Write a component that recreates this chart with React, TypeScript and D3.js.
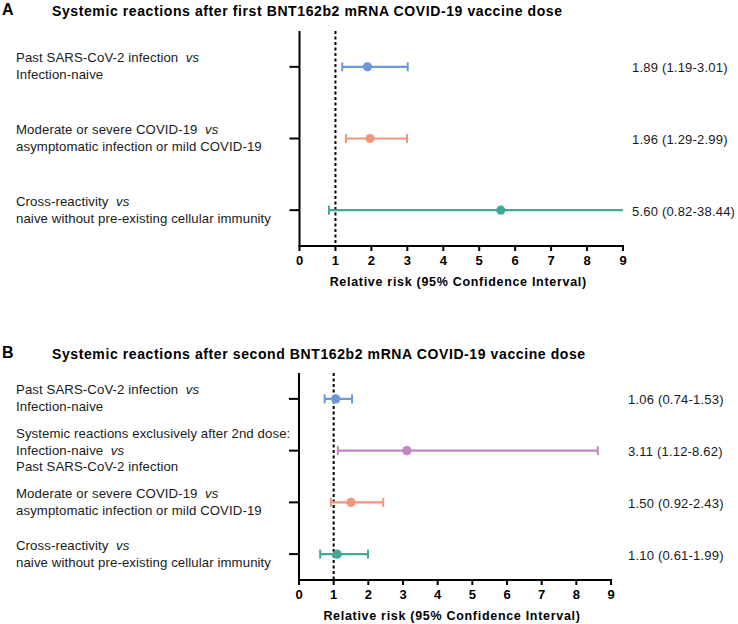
import React, { useEffect, useRef } from "react";
import * as d3 from "d3";

const titleA = "Systemic reactions after first BNT162b2 mRNA COVID-19 vaccine dose";
const titleB = "Systemic reactions after second BNT162b2 mRNA COVID-19 vaccine dose";
const axisTitle = "Relative risk (95% Confidence Interval)";
const xTicks = [0, 1, 2, 3, 4, 5, 6, 7, 8, 9];

// Each label: array of lines, each line array of [text, italic]
const labelsA: [string, boolean][][][] = [
  [[["Past SARS-CoV-2 infection  ", false], ["vs", true]], [["Infection-naive", false]]],
  [[["Moderate or severe COVID-19  ", false], ["vs", true]], [["asymptomatic infection or mild COVID-19", false]]],
  [[["Cross-reactivity  ", false], ["vs", true]], [["naive without pre-existing cellular immunity", false]]],
];
const estA = [1.89, 1.96, 5.6];
const lowA = [1.19, 1.29, 0.82];
const highA = [3.01, 2.99, 38.44];
const colorsA = ["#6e97d5", "#f3957c", "#43a898"];

const labelsB: [string, boolean][][][] = [
  [[["Past SARS-CoV-2 infection  ", false], ["vs", true]], [["Infection-naive", false]]],
  [
    [["Systemic reactions exclusively after 2nd dose:", false]],
    [["Infection-naive  ", false], ["vs", true]],
    [["Past SARS-CoV-2 infection", false]],
  ],
  [[["Moderate or severe COVID-19  ", false], ["vs", true]], [["asymptomatic infection or mild COVID-19", false]]],
  [[["Cross-reactivity  ", false], ["vs", true]], [["naive without pre-existing cellular immunity", false]]],
];
const estB = [1.06, 3.11, 1.5, 1.1];
const lowB = [0.74, 1.12, 0.92, 0.61];
const highB = [1.53, 8.62, 2.43, 1.99];
const colorsB = ["#6e97d5", "#c584c2", "#f3957c", "#43a898"];

const FONT = "'Liberation Sans', Arial, sans-serif";

type Panel = {
  letter: string;
  title: string;
  titleY: number;
  labels: [string, boolean][][][];
  est: number[];
  low: number[];
  high: number[];
  colors: string[];
  x0: number;
  x1: number;
  top: number;
  bottom: number;
  valueX: number;
};

function drawPanel(svg: d3.Selection<SVGSVGElement, unknown, null, undefined>, p: Panel) {
  const g = svg.append("g");
  const x = d3.scaleLinear().domain([0, 9]).range([p.x0, p.x1]);
  const y = d3
    .scaleBand<number>()
    .domain(p.est.map((_, i) => i))
    .range([p.top, p.bottom]);
  const cy = (i: number) => (y(i) as number) + y.bandwidth() / 2;

  // letter + title
  g.append("text")
    .attr("x", 2)
    .attr("y", p.titleY)
    .attr("font-family", FONT)
    .attr("font-weight", "bold")
    .attr("font-size", 16)
    .attr("dominant-baseline", "middle")
    .text(p.letter);
  g.append("text")
    .attr("x", 52)
    .attr("y", p.titleY + 1)
    .attr("font-family", FONT)
    .attr("font-weight", "bold")
    .attr("font-size", 14)
    .attr("letter-spacing", 0.6)
    .attr("dominant-baseline", "middle")
    .text(p.title);

  // row labels
  p.labels.forEach((lines, i) => {
    const n = lines.length;
    lines.forEach((segs, j) => {
      const t = g
        .append("text")
        .attr("x", 16)
        .attr("y", cy(i) + (j - (n - 1) / 2) * 16.8 + 1)
        .attr("font-family", FONT)
        .attr("font-size", 13.2)
        .attr("letter-spacing", 0.1)
        .attr("fill", "#1a1a1a")
        .attr("dominant-baseline", "middle");
      segs.forEach(([s, it]) => {
        t.append("tspan")
          .attr("font-style", it ? "italic" : "normal")
          .attr("xml:space", "preserve")
          .text(s);
      });
      t.style("white-space", "pre");
    });
  });

  // dashed reference line
  g.append("line")
    .attr("x1", x(1))
    .attr("x2", x(1))
    .attr("y1", p.top)
    .attr("y2", p.bottom)
    .attr("stroke", "#000")
    .attr("stroke-width", 2)
    .attr("stroke-dasharray", "3,2.5");

  // axes lines
  g.append("line")
    .attr("x1", p.x0)
    .attr("x2", p.x0)
    .attr("y1", p.top)
    .attr("y2", p.bottom + 1)
    .attr("stroke", "#000")
    .attr("stroke-width", 2);
  g.append("line")
    .attr("x1", p.x0 - 1)
    .attr("x2", p.x1 + 1)
    .attr("y1", p.bottom)
    .attr("y2", p.bottom)
    .attr("stroke", "#000")
    .attr("stroke-width", 2);

  // y ticks
  p.est.forEach((_, i) => {
    g.append("line")
      .attr("x1", p.x0 - 10)
      .attr("x2", p.x0)
      .attr("y1", cy(i))
      .attr("y2", cy(i))
      .attr("stroke", "#000")
      .attr("stroke-width", 2);
  });

  // x ticks
  xTicks.forEach((t) => {
    g.append("line")
      .attr("x1", x(t))
      .attr("x2", x(t))
      .attr("y1", p.bottom)
      .attr("y2", p.bottom + 5)
      .attr("stroke", "#000")
      .attr("stroke-width", 2);
    g.append("text")
      .attr("x", x(t))
      .attr("y", p.bottom + 16)
      .attr("font-family", FONT)
      .attr("font-weight", "bold")
      .attr("font-size", 13)
      .attr("text-anchor", "middle")
      .attr("dominant-baseline", "middle")
      .text(String(t));
  });

  g.append("text")
    .attr("x", (p.x0 + p.x1) / 2 - 3)
    .attr("y", p.bottom + 37)
    .attr("font-family", FONT)
    .attr("font-weight", "bold")
    .attr("font-size", 12.5)
    .attr("letter-spacing", 0.7)
    .attr("text-anchor", "middle")
    .attr("dominant-baseline", "middle")
    .text(axisTitle);

  // error bars
  const [dmin, dmax] = x.domain();
  p.est.forEach((e, i) => {
    const c = p.colors[i];
    const lo = Math.max(dmin, p.low[i]);
    const hi = Math.min(dmax, p.high[i]);
    const yy = cy(i);
    g.append("line")
      .attr("x1", x(lo))
      .attr("x2", x(hi))
      .attr("y1", yy)
      .attr("y2", yy)
      .attr("stroke", c)
      .attr("stroke-width", 2.2);
    if (p.low[i] >= dmin) {
      g.append("line")
        .attr("x1", x(p.low[i]))
        .attr("x2", x(p.low[i]))
        .attr("y1", yy - 4.5)
        .attr("y2", yy + 4.5)
        .attr("stroke", c)
        .attr("stroke-width", 2);
    }
    if (p.high[i] <= dmax) {
      g.append("line")
        .attr("x1", x(p.high[i]))
        .attr("x2", x(p.high[i]))
        .attr("y1", yy - 4.5)
        .attr("y2", yy + 4.5)
        .attr("stroke", c)
        .attr("stroke-width", 2);
    }
    g.append("circle").attr("cx", x(e)).attr("cy", yy).attr("r", 4.6).attr("fill", c);

    g.append("text")
      .attr("x", p.valueX)
      .attr("y", yy + 2)
      .attr("font-family", FONT)
      .attr("font-size", 13)
      .attr("letter-spacing", 0.2)
      .attr("fill", "#1a1a1a")
      .attr("dominant-baseline", "middle")
      .text(`${e.toFixed(2)} (${p.low[i].toFixed(2)}-${p.high[i].toFixed(2)})`);
  });
}

export default function App() {
  const ref = useRef<SVGSVGElement>(null);
  useEffect(() => {
    if (!ref.current) return;
    const svg = d3.select(ref.current);
    svg.selectAll("*").remove();
    drawPanel(svg, {
      letter: "A",
      title: titleA,
      titleY: 11,
      labels: labelsA,
      est: estA,
      low: lowA,
      high: highA,
      colors: colorsA,
      x0: 299.5,
      x1: 623,
      top: 31,
      bottom: 246,
      valueX: 632,
    });
    drawPanel(svg, {
      letter: "B",
      title: titleB,
      titleY: 354,
      labels: labelsB,
      est: estB,
      low: lowB,
      high: highB,
      colors: colorsB,
      x0: 299,
      x1: 611,
      top: 373,
      bottom: 580,
      valueX: 628,
    });
  }, []);
  return (
    <svg
      ref={ref}
      width={738}
      height={624}
      style={{ position: "absolute", left: 0, top: 0, background: "#fff" }}
    />
  );
}
